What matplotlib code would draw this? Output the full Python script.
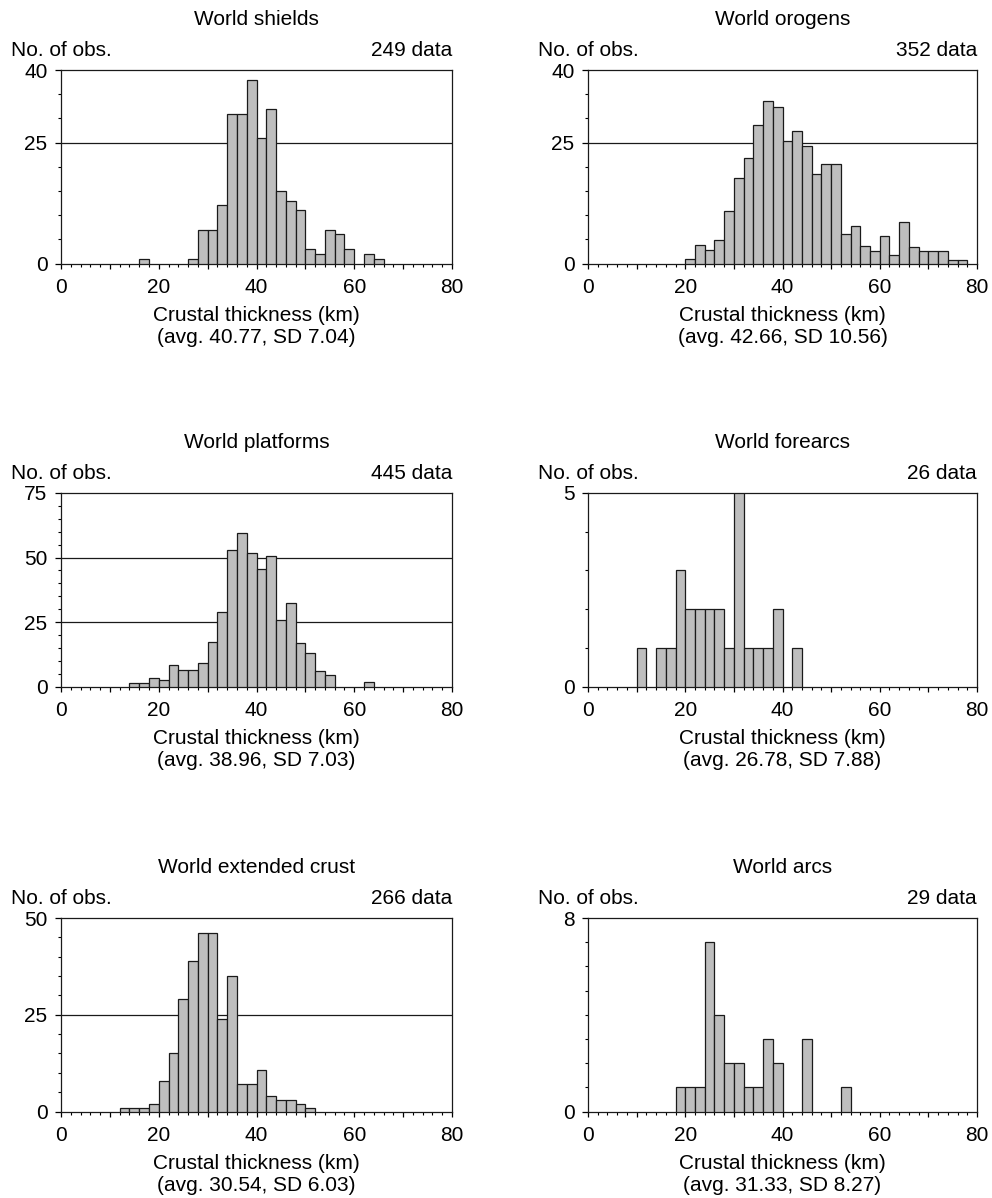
import numpy as np
import matplotlib
matplotlib.use("Agg")
import matplotlib.pyplot as plt
from matplotlib.ticker import MultipleLocator

plt.rcParams['font.family'] = ['Liberation Sans', 'DejaVu Sans']

# ---- data ----
titles = ["World shields", "World orogens", "World platforms",
          "World forearcs", "World extended crust", "World arcs"]
n_data = ["249 data", "352 data", "445 data", "26 data", "266 data", "29 data"]
stats = ["(avg. 40.77, SD 7.04)", "(avg. 42.66, SD 10.56)",
         "(avg. 38.96, SD 7.03)", "(avg. 26.78, SD 7.88)",
         "(avg. 30.54, SD 6.03)", "(avg. 31.33, SD 8.27)"]
bin_width = 2

shields_start = 16
shields_counts = [1, 0, 0, 0, 0, 1, 7, 7, 12, 31, 31, 38, 26, 32, 15, 13, 11,
                  3, 2, 7, 6, 3, 0, 2, 1]
orogens_start = 20
orogens_counts = [0.9, 3.9, 2.8, 4.8, 10.8, 17.7, 21.9, 28.6, 33.5, 32.3, 25.4,
                  27.4, 24.3, 18.4, 20.6, 20.6, 6.2, 7.7, 3.6, 2.6, 5.6, 1.7,
                  8.5, 3.4, 2.5, 2.5, 2.5, 0.8, 0.8]
platforms_start = 14
platforms_counts = [1.5, 1.5, 3.2, 2.5, 8.3, 6.3, 6.3, 9.3, 17.2, 28.8, 52.9,
                    59.5, 51.6, 45.7, 50.7, 25.8, 32.5, 17, 12.9, 6.1, 4.5,
                    0, 0, 0, 1.7]
forearcs_start = 10
forearcs_counts = [1, 0, 1, 1, 3, 2, 2, 2, 2, 1, 5, 1, 1, 1, 2, 0, 1]
extended_start = 12
extended_counts = [1, 1, 1, 2, 8, 15, 29, 39, 46, 46, 24, 35, 7, 7, 10.6, 4,
                   3, 3, 2, 1]
arcs_start = 18
arcs_counts = [1, 1, 1, 7, 4, 2, 2, 1, 1, 3, 2, 0, 0, 3, 0, 0, 0, 1]

starts = [shields_start, orogens_start, platforms_start, forearcs_start,
          extended_start, arcs_start]
counts = [shields_counts, orogens_counts, platforms_counts, forearcs_counts,
          extended_counts, arcs_counts]

ymax = [40, 40, 75, 5, 50, 8]
ymajor = [[0, 25, 40], [0, 25, 40], [0, 25, 50, 75], [0, 5], [0, 25, 50], [0, 8]]
yminor = [5, 5, 5, 1, 5, 1]
gridlines = [[25], [25], [25, 50], [], [25], []]

x_ticks = [0, 10, 20, 30, 40, 50, 60, 70, 80]
x_ticklabels = ["0", "", "20", "", "40", "", "60", "", "80"]
xlabel = "Crustal thickness (km)"
ylabel = "No. of obs."

# ---- layout ----
W, H = 992, 1198
fig = plt.figure(figsize=(W / 100, H / 100), dpi=100)
col_left = [61, 588]
col_width = [391, 389]
row_top = [70, 493, 918]
ax_h = 193.5
FS = 15

for i in range(6):
    r, c = divmod(i, 2)
    x0 = col_left[c]
    w = col_width[c]
    top = row_top[r]
    ax = fig.add_axes([x0 / W, 1 - (top + ax_h) / H, w / W, ax_h / H])
    vals = np.array(counts[i], dtype=float)
    edges = starts[i] + bin_width * np.arange(len(vals))
    mask = vals > 0
    ax.bar(edges[mask], vals[mask], width=bin_width, align='edge',
           color='#bebebe', edgecolor='#1a1a1a', linewidth=0.9, zorder=3)
    for g in gridlines[i]:
        ax.axhline(g, color='#1a1a1a', linewidth=0.9, zorder=1)
    ax.set_xlim(0, 80)
    ax.set_ylim(0, ymax[i])
    ax.set_xticks(x_ticks)
    ax.set_xticklabels(x_ticklabels)
    ax.xaxis.set_minor_locator(MultipleLocator(2))
    ax.set_yticks(ymajor[i])
    ax.set_yticklabels([str(v) for v in ymajor[i]])
    ax.yaxis.set_minor_locator(MultipleLocator(yminor[i]))
    ax.tick_params(axis='x', which='major', length=3.5, width=0.9,
                   pad=7, labelsize=FS, direction='out')
    ax.tick_params(axis='x', which='minor', length=1.8, width=0.8,
                   direction='out')
    ax.tick_params(axis='y', which='major', length=4.3, width=0.9,
                   pad=5.5, labelsize=FS, direction='out')
    ax.tick_params(axis='y', which='minor', length=2.5, width=0.8,
                   direction='out')
    for s in ax.spines.values():
        s.set_linewidth(0.9)
        s.set_color('#1a1a1a')
    ax.set_xlabel(xlabel + "\n" + stats[i], fontsize=FS, labelpad=6.5,
                  linespacing=1.17)
    # title and annotations
    cx = x0 + w / 2
    fig.text(cx / W, 1 - (top - 45) / H, titles[i], ha='center',
             va='baseline', fontsize=FS)
    fig.text((x0 - 50) / W, 1 - (top - 14) / H, ylabel, ha='left',
             va='baseline', fontsize=FS)
    fig.text((x0 + w) / W, 1 - (top - 14) / H, n_data[i], ha='right',
             va='baseline', fontsize=FS)

fig.savefig("out.png", dpi=100)
